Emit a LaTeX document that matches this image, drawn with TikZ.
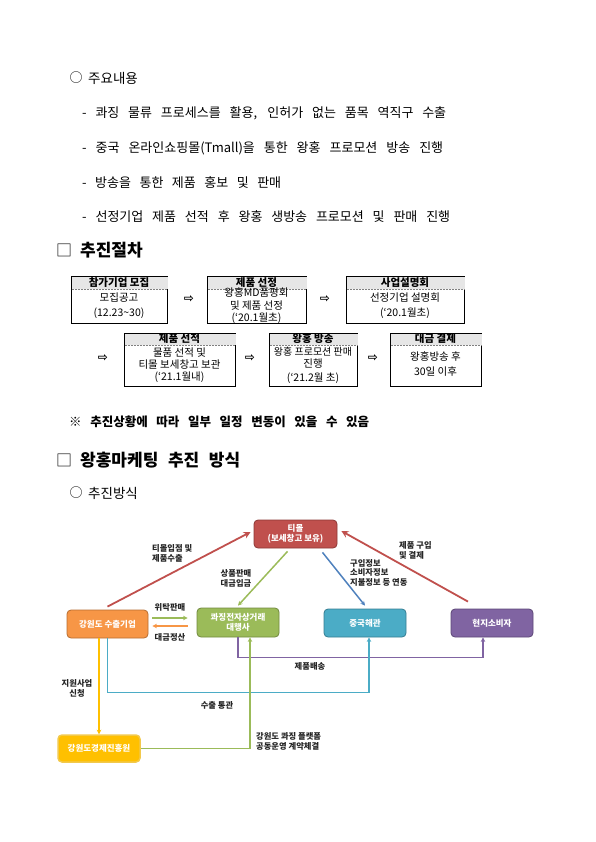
\documentclass[tikz,border=0pt]{standalone}
\usepackage{fontspec}
\setmainfont{Noto Sans CJK KR}
\newfontfamily\dv{DejaVu Sans}
\usetikzlibrary{arrows.meta}
\definecolor{hdrg}{HTML}{E6E6E6}
\definecolor{cred}{HTML}{C0504D}
\definecolor{credd}{HTML}{8C3836}
\definecolor{corg}{HTML}{F79646}
\definecolor{corgd}{HTML}{B66D31}
\definecolor{cgrn}{HTML}{9BBB59}
\definecolor{cgrnd}{HTML}{71893F}
\definecolor{cteal}{HTML}{4BACC6}
\definecolor{ctealdd}{HTML}{357D91}
\definecolor{cpur}{HTML}{8064A2}
\definecolor{cpurd}{HTML}{5C4776}
\definecolor{cyel}{HTML}{FFC000}
\definecolor{cyeld}{HTML}{F2C94C}
\definecolor{cblu}{HTML}{4F81BD}
\begin{document}
\begin{tikzpicture}[x=1pt,y=-1pt,
 txt/.style={inner sep=0, anchor=west, font=\fontsize{13}{15}\selectfont},
 sym/.style={inner sep=0, font=\fontsize{13}{14}\selectfont},
 hd/.style={inner sep=0, anchor=west, font=\bfseries\fontsize{17}{19}\selectfont},
 fbox/.style={draw=black, line width=1.2pt, inner sep=0, anchor=north west},
 fh/.style={inner sep=0, font=\bfseries\fontsize{10.5}{11}\selectfont},
 fb/.style={inner sep=0, font=\fontsize{10.5}{11}\selectfont},
 farr/.style={inner sep=0, font=\dv\bfseries\fontsize{12}{13}\selectfont},
 dn/.style={rounded corners=4pt, line width=0.8pt, inner sep=0, text=white, font=\bfseries\fontsize{8.5}{10.5}\selectfont, align=center},
 lb/.style={inner sep=0, font=\bfseries\fontsize{8.3}{10}\selectfont, text=black!85},
 con/.style={line width=1.3pt, -{Stealth[length=4.5pt,width=4.5pt]}},
 diag/.style={line width=1.8pt, -{Stealth[length=7pt,width=7pt]}},
 hline/.style={draw=gray, line width=0.4pt, dash pattern=on 2pt off 1pt}
]
\useasboundingbox (0,0) rectangle (595,842);

% ---- top text
\node[sym] (c1) at (76,78) {○};
\node[txt, font=\fontsize{13.5}{15}\selectfont] (t0) at (88,78) {주요내용};
\node[txt] (t1) at (82,113) {\makebox[364pt][s]{- 콰징 물류 프로세스를 활용, 인허가 없는 품목 역직구 수출}};
\node[txt] (t2) at (82,148) {\makebox[361pt][s]{- 중국 온라인쇼핑몰(Tmall)을 통한 왕홍 프로모션 방송 진행}};
\node[txt] (t3) at (82,183) {\makebox[199pt][s]{- 방송을 통한 제품 홍보 및 판매}};
\node[txt] (t4) at (82,217) {\makebox[368pt][s]{- 선정기업 제품 선적 후 왕홍 생방송 프로모션 및 판매 진행}};

\node[sym, font=\fontsize{16}{17}\selectfont] (s1) at (64,250) {□};
\node[hd] (h1) at (80,250) {추진절차};

% ---- flow boxes row 1
\node[fbox, minimum width=96pt, minimum height=47pt] (b1) at (71,276) {};
\node[fbox, minimum width=99pt, minimum height=47pt] (b2) at (207,276) {};
\node[fbox, minimum width=118pt, minimum height=47pt] (b3) at (346,276) {};
% row 2
\node[fbox, minimum width=111pt, minimum height=53pt] (b4) at (124,333) {};
\node[fbox, minimum width=88pt, minimum height=53pt] (b5) at (269,333) {};
\node[fbox, minimum width=91pt, minimum height=53pt] (b6) at (390,333) {};

\foreach \b/\h in {b1/13,b2/13,b3/13,b4/12,b5/12,b6/12}{
  \fill[hdrg] ([shift={(0.6pt,-0.6pt)}]\b.north west) rectangle ([shift={(-0.6pt,-\h pt)}]\b.north east);
  \draw[hline] ([shift={(0.6pt,-\h pt)}]\b.north west) -- ([shift={(-0.6pt,-\h pt)}]\b.north east);
}

\node[fh] (b1h) at (119,282.5) {참가기업 모집};
\node[fb] (b1a) at (119,298) {모집공고};
\node[fb] (b1b) at (119,313) {(12.23\textasciitilde30)};

\node[fh] (b2h) at (256.5,282.5) {제품 선정};
\node[fb] (b2a) at (256.5,292.5) {왕홍MD품평회};
\node[fb] (b2b) at (256.5,306) {및 제품 선정};
\node[fb] (b2c) at (256.5,318) {(‘20.1월초)};

\node[fh] (b3h) at (405,282.5) {사업설명회};
\node[fb] (b3a) at (405,298) {선정기업 설명회};
\node[fb] (b3b) at (405,313) {(‘20.1월초)};

\node[fh] (b4h) at (179.5,339) {제품 선적};
\node[fb] (b4a) at (179.5,353) {물품 선적 및};
\node[fb] (b4b) at (179.5,365) {티몰 보세창고 보관};
\node[fb] (b4c) at (179.5,377) {(‘21.1월내)};

\node[fh] (b5h) at (313,339) {왕홍 방송};
\node[fb, font=\fontsize{10}{11}\selectfont] (b5a) at (313,352) {왕홍 프로모션 판매};
\node[fb] (b5b) at (313,363.5) {진행};
\node[fb] (b5c) at (313,378) {(‘21.2월 초)};

\node[fh] (b6h) at (435.5,339) {대금 결제};
\node[fb] (b6a) at (435.5,357) {왕홍방송 후};
\node[fb] (b6b) at (435.5,372) {30일 이후};

\node[farr] (a1) at (189,299) {⇨};
\node[farr] (a2) at (325,299) {⇨};
\node[farr] (a3) at (103,358) {⇨};
\node[farr] (a4) at (250,358) {⇨};
\node[farr] (a5) at (373,358) {⇨};

\node[txt, font=\bfseries\fontsize{12.5}{14}\selectfont] (note) at (69,422) {\makebox[300pt][s]{※ 추진상황에 따라 일부 일정 변동이 있을 수 있음}};

\node[sym, font=\fontsize{16}{17}\selectfont] (s2) at (64,460) {□};
\node[hd] (h2) at (80,460) {\makebox[160pt][s]{왕홍마케팅 추진 방식}};

\node[sym] (c2) at (76,493) {○};
\node[txt, font=\fontsize{13.5}{15}\selectfont] (t5) at (88,493) {추진방식};

% ---- diagram nodes
\node[dn, fill=cred, draw=credd, minimum width=83pt, minimum height=28pt] (tmall) at (295.5,534) {티몰\\(보세창고 보유)};
\node[dn, fill=corg, draw=corgd, minimum width=81pt, minimum height=28pt] (exp) at (107.5,624) {강원도 수출기업};
\node[dn, fill=cgrn, draw=cgrnd, minimum width=82pt, minimum height=29pt] (agent) at (238,622.5) {콰징전자상거래\\대행사};
\node[dn, fill=cteal, draw=ctealdd, minimum width=82pt, minimum height=28pt] (customs) at (365,623) {중국해관};
\node[dn, fill=cpur, draw=cpurd, minimum width=82pt, minimum height=28pt] (consumer) at (492,623) {현지소비자};
\node[dn, fill=cyel, draw=cyeld, line width=1.5pt, minimum width=82pt, minimum height=27pt] (gw) at (99,748.5) {강원도경제진흥원};

% ---- connectors
\draw[diag, cred] ([yshift=3pt]exp.north) -- ([xshift=-3pt,yshift=2pt]tmall.west);
\draw[diag, cred] ([xshift=-24pt,yshift=7pt]consumer.north) -- ([xshift=4pt,yshift=3pt]tmall.east);
\draw[con, line width=1.5pt, cgrn] ([xshift=-8pt,yshift=-3pt]tmall.south) -- ([yshift=2pt]agent.north);
\draw[con, line width=1.5pt, cblu] ([xshift=27pt,yshift=-4pt]tmall.south) -- ([yshift=3pt]customs.north);
\draw[con, cgrn] ([xshift=4pt,yshift=6pt]exp.east) -- ([xshift=-9pt,yshift=4.5pt]agent.west);
\draw[con, corg] ([xshift=-9pt,yshift=-3.5pt]agent.west) -- ([xshift=4pt,yshift=-2pt]exp.east);
\draw[con, cpur] (agent.south) -- ++(0,20) -| ([xshift=-9pt]consumer.south);
\draw[con, cteal] (exp.south) -- ++(0,54) -| ([xshift=4pt]customs.south);
\draw[con, cyel] ([xshift=-8.5pt]exp.south) -- (gw.north);
\draw[con, cgrn] (gw.east) -| ([xshift=12pt]agent.south);

% ---- labels
\node[lb, anchor=west, align=left] (l1) at (152,553) {티몰입점 및\\제품수출};
\node[lb, align=center] (l2) at (236,578.5) {상품판매\\대금입금};
\node[lb] (l3) at (170,607) {위탁판매};
\node[lb] (l4) at (170,637.5) {대금정산};
\node[lb, anchor=west, align=left, font=\bfseries\fontsize{8.3}{9.5}\selectfont] (l5) at (350,572.5) {구입정보\\소비자정보\\지불정보 등 연동};
\node[lb, anchor=west, align=left] (l6) at (399,550) {제품 구입\\및 결제};
\node[lb] (l7) at (310,666) {제품배송};
\node[lb] (l8) at (217,705) {수출 통관};
\node[lb, align=center] (l9) at (77,688.5) {지원사업\\신청};
\node[lb, anchor=west, align=left] (l10) at (256,741) {강원도 콰징 플랫폼\\공동운영 계약체결};
\end{tikzpicture}
\end{document}
